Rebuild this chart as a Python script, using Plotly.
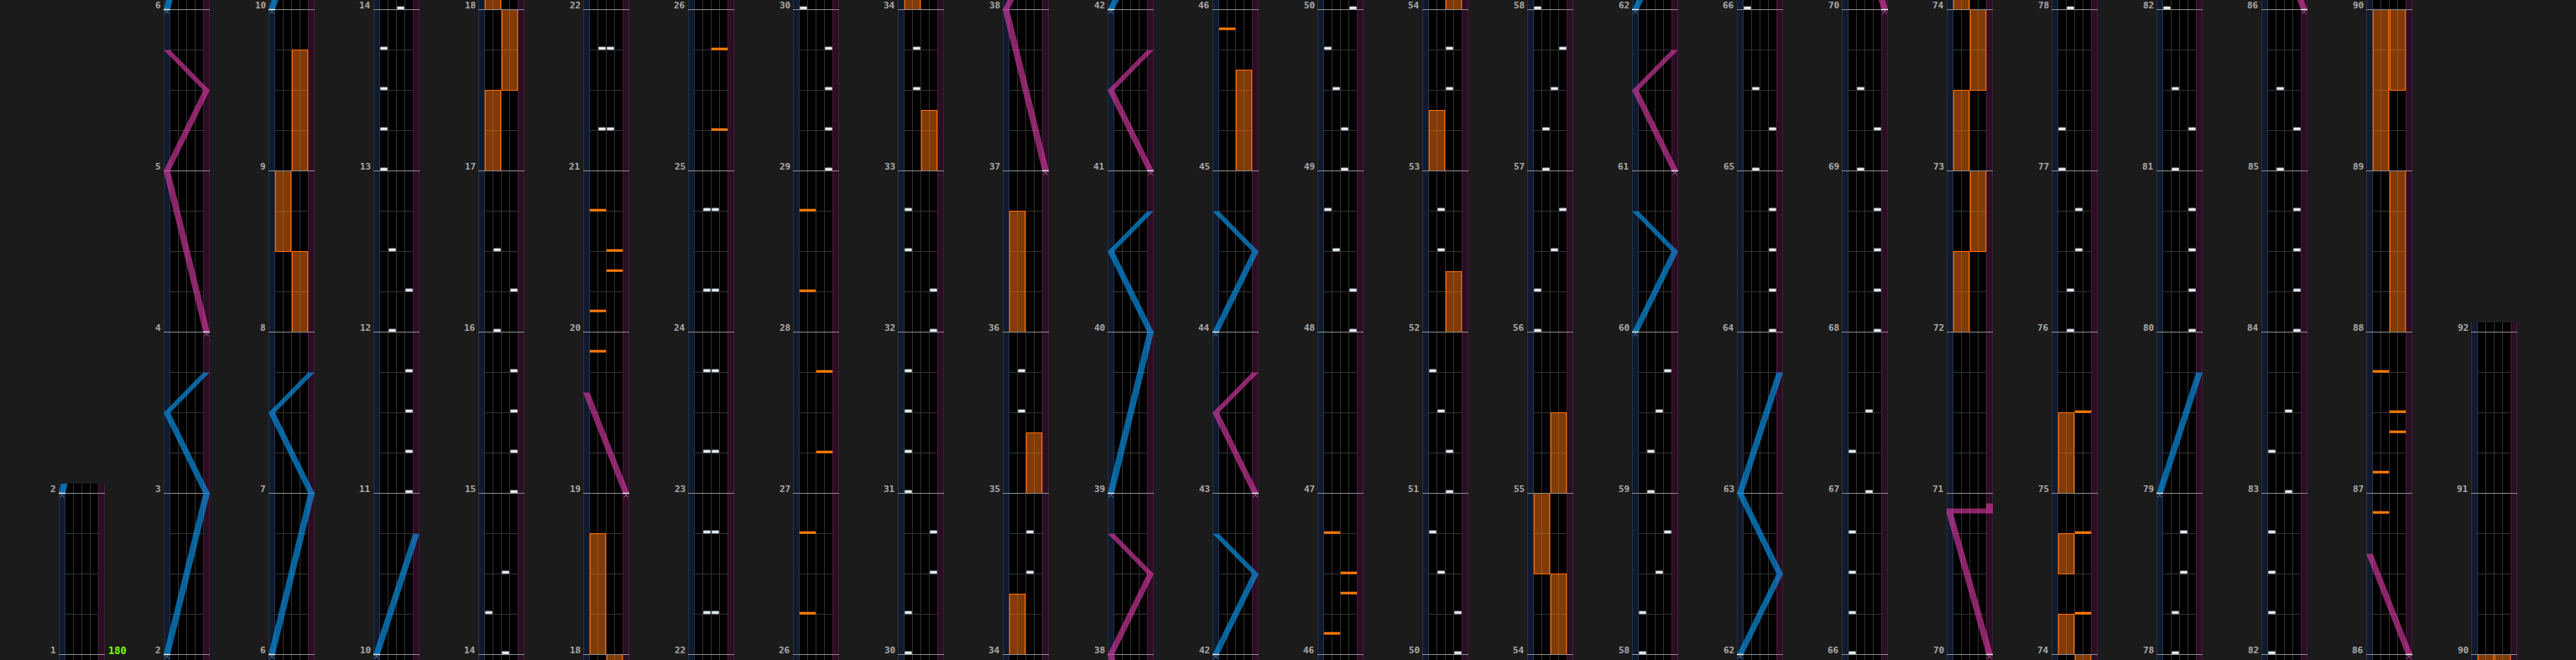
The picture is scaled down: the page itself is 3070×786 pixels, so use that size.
import plotly.graph_objects as go

# ---------------- chart data ----------------
column_starts = [1, 2, 6, 10, 14, 18, 22, 26, 30, 34, 38, 42, 46, 50, 54, 58, 62, 66, 70, 74, 78, 82, 86, 90]
last_measure = 92
bpm_label = "180"

# BT chip notes: time in measures (lane A..D)
bt_a_times = [13, 13.25, 13.5, 13.75, 14.25, 30, 30.25, 31, 31.25, 31.5, 31.75, 32.5, 32.75,
              48.75, 49.75, 50.75, 51.75, 56, 56.25, 58, 58.25, 66, 66.25, 66.5, 66.75, 67.25,
              77, 77.25, 82, 82.25, 82.5, 82.75, 83.25]
bt_b_times = [12, 12.5, 16, 16.5, 21.25, 21.75, 22.25, 22.75, 23.25, 23.75, 24.25, 24.75,
              33.5, 33.75, 35.5, 35.75, 48.5, 49.5, 50.5, 51.5, 52.5, 52.75, 57, 57.25, 59, 59.25,
              65, 65.5, 69, 69.5, 76, 76.25, 78, 78.25, 81, 81.5, 85, 85.5]
bt_c_times = [14, 14.5, 21.25, 21.75, 22.25, 22.75, 23.25, 23.75, 24.25, 24.75, 34.5, 34.75,
              49, 49.25, 51, 51.25, 53.5, 53.75, 56.5, 57.5, 58.5, 59.5, 67, 67.5, 76.5, 76.75,
              78.5, 78.75, 83, 83.5]
bt_d_times = [11, 11.25, 11.5, 11.75, 12.25, 15, 15.25, 15.5, 15.75, 16.25, 29, 29.25, 29.5, 29.75,
              30.5, 30.75, 32, 32.25, 48, 48.25, 50, 50.25, 56.75, 57.75, 58.75, 59.75,
              64, 64.25, 64.5, 64.75, 65.25, 68, 68.25, 68.5, 68.75, 69.25,
              80, 80.25, 80.5, 80.75, 81.25, 84, 84.25, 84.5, 84.75, 85.25]

# FX chip notes
fx_l_chip_times = [19.875, 20.125, 20.75, 26.25, 26.75, 28.25, 28.75, 45.875, 46.125, 46.75,
                   86.875, 87.125, 87.75]
fx_r_chip_times = [20.375, 20.5, 25.25, 25.75, 27.25, 27.75, 46.375, 46.5, 74.25, 74.75, 75.5,
                   87.375, 87.5]

# FX long notes
fx_l_hold_starts = [8.5, 17.0, 18.0, 34.0, 36.0, 53.0, 54.5, 72.0, 73.0, 74.0, 74.5, 75.0, 89.0]
fx_l_hold_ends = [9.0, 17.5, 18.75, 34.375, 36.75, 53.375, 55.0, 72.5, 73.5, 74.25, 74.75, 75.5, 90.0]
fx_r_hold_starts = [8.0, 9.0, 17.5, 33.0, 35.0, 45.0, 52.0, 54.0, 55.0, 72.5, 73.5, 88.0, 89.5]
fx_r_hold_ends = [8.5, 9.75, 18.0, 33.375, 35.375, 45.625, 52.375, 54.5, 55.5, 73.0, 74.0, 89.0, 90.0]

# Lasers: times (measures) and positions (0 = left edge, 1 = right edge)
laser_l_times = [[2, 3, 3.5, 3.75], [6, 7, 7.5, 7.75], [10, 10.75], [39, 40, 40.5, 40.75],
                 [42, 42.5, 42.75], [44, 44.5, 44.75], [60, 60.5, 60.75], [62, 62.5, 63, 63.75],
                 [79, 79.75]]
laser_l_pos = [[0, 1, 0, 1], [0, 1, 0, 1], [0, 1], [0, 1, 0, 1], [0, 1, 0], [0, 1, 0], [0, 1, 0],
               [0, 1, 0, 1], [0, 1]]
laser_r_times = [[4, 5, 5.5, 5.75], [19, 19.625], [37, 38, 38.5, 38.75], [41, 41.5, 41.75],
                 [43, 43.5, 43.75], [61, 61.5, 61.75], [70, 70.875, 70.875, 70.9375], [86, 86.625]]
laser_r_pos = [[1, 0, 1, 0], [1, 0], [1, 0, 1, 0], [1, 0, 1], [1, 0, 1], [1, 0, 1], [1, 0, 1, 1], [1, 0]]

# ---------------- styling / layout ----------------
W, H = 3070, 786
PX_M = 192.0                      # pixels per measure
COL_X0, COL_STEP, COL_W = 70, 125, 55
BELOW, ABOVE = 6.5 / PX_M, 11.5 / PX_M
U_LEFT, U_RIGHT = -0.75, 4.75     # column edges in lane units (1 unit = 1 BT lane)
LASER_C0, LASER_C1, LASER_HW = -0.36, 4.36, 0.39
SLAM_H = 6 / PX_M

PAGE_BG = "#1b1b1b"
GRID = "#303030"
MEASURE_LINE = "#8a8a8a"
LABEL_COLOR = "#a9a9a9"
BLUE_FILL = "rgba(10,150,235,0.66)"
PINK_FILL = "rgba(225,60,170,0.62)"
BLUE_MARK = "#3d7fb5"
PINK_MARK = "#c05aa0"


def rect(x0, x1, y0, y1):
    return [x0, x1, x1, x0, x0, None], [y0, y0, y1, y1, y0, None]


def lx(p):
    return LASER_C0 + p * (LASER_C1 - LASER_C0)


def laser_polys(times, pos):
    segs, cur, slams = [], [(times[0], pos[0])], []
    for t, p in zip(times[1:], pos[1:]):
        if t == cur[-1][0]:
            slams.append((t, cur[-1][1], p))
            segs.append(cur)
            cur = [(t + SLAM_H, p)]
        else:
            cur.append((t, p))
    segs.append(cur)
    xs, ys = [], []
    for seg in segs:
        if len(seg) < 2:
            continue
        pts = [(lx(p) - LASER_HW, t) for t, p in seg] + [(lx(p) + LASER_HW, t) for t, p in reversed(seg)]
        pts.append(pts[0])
        xs += [a for a, _ in pts] + [None]
        ys += [b for _, b in pts] + [None]
    for t, p0, p1 in slams:
        a = min(lx(p0), lx(p1)) - LASER_HW
        b = max(lx(p0), lx(p1)) + LASER_HW
        rx, ry = rect(a, b, t, t + SLAM_H)
        xs += rx
        ys += ry
    return xs, ys


fig = go.Figure()
shapes, annotations = [], []
layout_axes = {}

ends = column_starts[1:] + [last_measure]
for k, (s, e) in enumerate(zip(column_starts, ends), start=1):
    suf = "" if k == 1 else str(k)
    xa, ya = "x" + suf, "y" + suf
    left_px = COL_X0 + COL_STEP * (k - 1)
    lo = s - BELOW
    hi = e + ABOVE                  # the column's drawn area ends just above its last measure line
    layout_axes["xaxis" + suf] = dict(domain=[left_px / W, (left_px + COL_W) / W], range=[U_LEFT, U_RIGHT],
                                      visible=False, fixedrange=True, anchor=ya)
    layout_axes["yaxis" + suf] = dict(domain=[0, min(1.0, (hi - lo) * PX_M / H)], range=[lo, hi],
                                      visible=False, fixedrange=True, anchor=xa)

    def vis(t0, t1):
        return t1 >= lo - 0.05 and t0 <= hi + 0.05

    # backgrounds
    shapes.append(dict(type="rect", xref=xa, yref=ya, x0=0, x1=4, y0=lo, y1=hi,
                       fillcolor="#000000", line_width=0, layer="below"))
    shapes.append(dict(type="rect", xref=xa, yref=ya, x0=U_LEFT, x1=0, y0=lo, y1=hi,
                       fillcolor="#111a2d", line_width=0, layer="below"))
    shapes.append(dict(type="rect", xref=xa, yref=ya, x0=4, x1=U_RIGHT, y0=lo, y1=hi,
                       fillcolor="#2a0e22", line_width=0, layer="below"))

    # grid: beat lines and lane separators
    gx, gy = [], []
    m = s
    while m < e:
        for q in (0.25, 0.5, 0.75):
            gx += [0, 4, None]
            gy += [m + q, m + q, None]
        m += 1
    for u in (1, 2, 3):
        gx += [u, u, None]
        gy += [lo, hi, None]
    fig.add_trace(go.Scatter(x=gx, y=gy, mode="lines", line=dict(color=GRID, width=1),
                             xaxis=xa, yaxis=ya, hoverinfo="skip", showlegend=False))
    # lane edges
    for u, c in ((0, "#24354c"), (4, "#4e1840"), (U_LEFT + 0.06, "#22344a"), (U_RIGHT - 0.06, "#4a1a3c")):
        fig.add_trace(go.Scatter(x=[u, u], y=[lo, hi], mode="lines", line=dict(color=c, width=1),
                                 xaxis=xa, yaxis=ya, hoverinfo="skip", showlegend=False))

    # FX holds
    hx, hy = [], []
    for starts, ends_, x0 in ((fx_l_hold_starts, fx_l_hold_ends, 0.08), (fx_r_hold_starts, fx_r_hold_ends, 2.08)):
        for t0, t1 in zip(starts, ends_):
            if vis(t0, t1):
                rx, ry = rect(x0, x0 + 1.84, t0, t1)
                hx += rx
                hy += ry
    if hx:
        fig.add_trace(go.Scatter(x=hx, y=hy, mode="lines", fill="toself",
                                 fillcolor="rgba(255,118,12,0.5)", line=dict(color="#ff6c00", width=1.2),
                                 xaxis=xa, yaxis=ya, hoverinfo="skip", showlegend=False))

    # measure lines + labels
    mx, my = [], []
    for m in range(s, e + 1):
        mx += [U_LEFT, U_RIGHT, None]
        my += [m, m, None]
        annotations.append(dict(text="<b>%d</b>" % m, x=U_LEFT, y=m, xref=xa, yref=ya, xanchor="right",
                                yanchor="middle", xshift=-1, yshift=5, showarrow=False,
                                font=dict(family="DejaVu Sans Mono", size=11, color=LABEL_COLOR)))
    fig.add_trace(go.Scatter(x=mx, y=my, mode="lines", line=dict(color=MEASURE_LINE, width=1),
                             xaxis=xa, yaxis=ya, hoverinfo="skip", showlegend=False))

    # FX chips
    fx_, fy_ = [], []
    for times, x0 in ((fx_l_chip_times, 0.05), (fx_r_chip_times, 2.05)):
        for t in times:
            if vis(t, t):
                rx, ry = rect(x0, x0 + 1.9, t, t + 2.5 / PX_M)
                fx_ += rx
                fy_ += ry
    if fx_:
        fig.add_trace(go.Scatter(x=fx_, y=fy_, mode="lines", fill="toself", fillcolor="#ff7a00",
                                 line=dict(color="#ff7a00", width=0.5),
                                 xaxis=xa, yaxis=ya, hoverinfo="skip", showlegend=False))

    # BT chips
    bx, by = [], []
    for lane, times in enumerate((bt_a_times, bt_b_times, bt_c_times, bt_d_times)):
        for t in times:
            if vis(t, t):
                rx, ry = rect(lane + 0.1, lane + 0.9, t + 0.5 / PX_M, t + 3.5 / PX_M)
                bx += rx
                by += ry
    if bx:
        fig.add_trace(go.Scatter(x=bx, y=by, mode="lines", fill="toself", fillcolor="#ffffff",
                                 line=dict(color="#9aa6b4", width=1),
                                 xaxis=xa, yaxis=ya, hoverinfo="skip", showlegend=False))

    # lasers
    for tl, pl, fillc, markc in ((laser_l_times, laser_l_pos, BLUE_FILL, BLUE_MARK),
                                 (laser_r_times, laser_r_pos, PINK_FILL, PINK_MARK)):
        for times, pos in zip(tl, pl):
            if not vis(times[0] - 0.05, times[-1]):
                continue
            xs, ys = laser_polys(times, pos)
            fig.add_trace(go.Scatter(x=xs, y=ys, mode="lines", fill="toself", fillcolor=fillc,
                                     line=dict(width=0), xaxis=xa, yaxis=ya, hoverinfo="skip",
                                     showlegend=False))
            c = lx(pos[0])
            t0 = times[0]
            fig.add_trace(go.Scatter(x=[c - LASER_HW, c + LASER_HW], y=[t0, t0], mode="lines",
                                     line=dict(color="#e8eef5", width=1.5), xaxis=xa, yaxis=ya,
                                     hoverinfo="skip", showlegend=False))
            fig.add_trace(go.Scatter(x=[c - 0.25, c, c + 0.25], y=[t0 - 5 / PX_M, t0 - 1.5 / PX_M, t0 - 5 / PX_M],
                                     mode="lines", line=dict(color=markc, width=1), xaxis=xa, yaxis=ya,
                                     hoverinfo="skip", showlegend=False))

# BPM label on the first column
annotations.append(dict(text="<b>%s</b>" % bpm_label, x=U_RIGHT, y=column_starts[0], xref="x", yref="y",
                        xanchor="left", yanchor="middle", xshift=2, yshift=5, showarrow=False,
                        font=dict(family="DejaVu Sans Mono", size=12, color="#7cfc00")))

fig.update_layout(width=W, height=H, margin=dict(l=0, r=0, t=0, b=0), paper_bgcolor=PAGE_BG,
                  plot_bgcolor="rgba(0,0,0,0)", showlegend=False, shapes=shapes,
                  annotations=annotations, **layout_axes)

fig.write_html("out.html", include_plotlyjs=True, full_html=True,
               config={"displayModeBar": False, "staticPlot": True},
               post_script="document.body.style.margin='0';document.body.style.overflow='hidden';")
